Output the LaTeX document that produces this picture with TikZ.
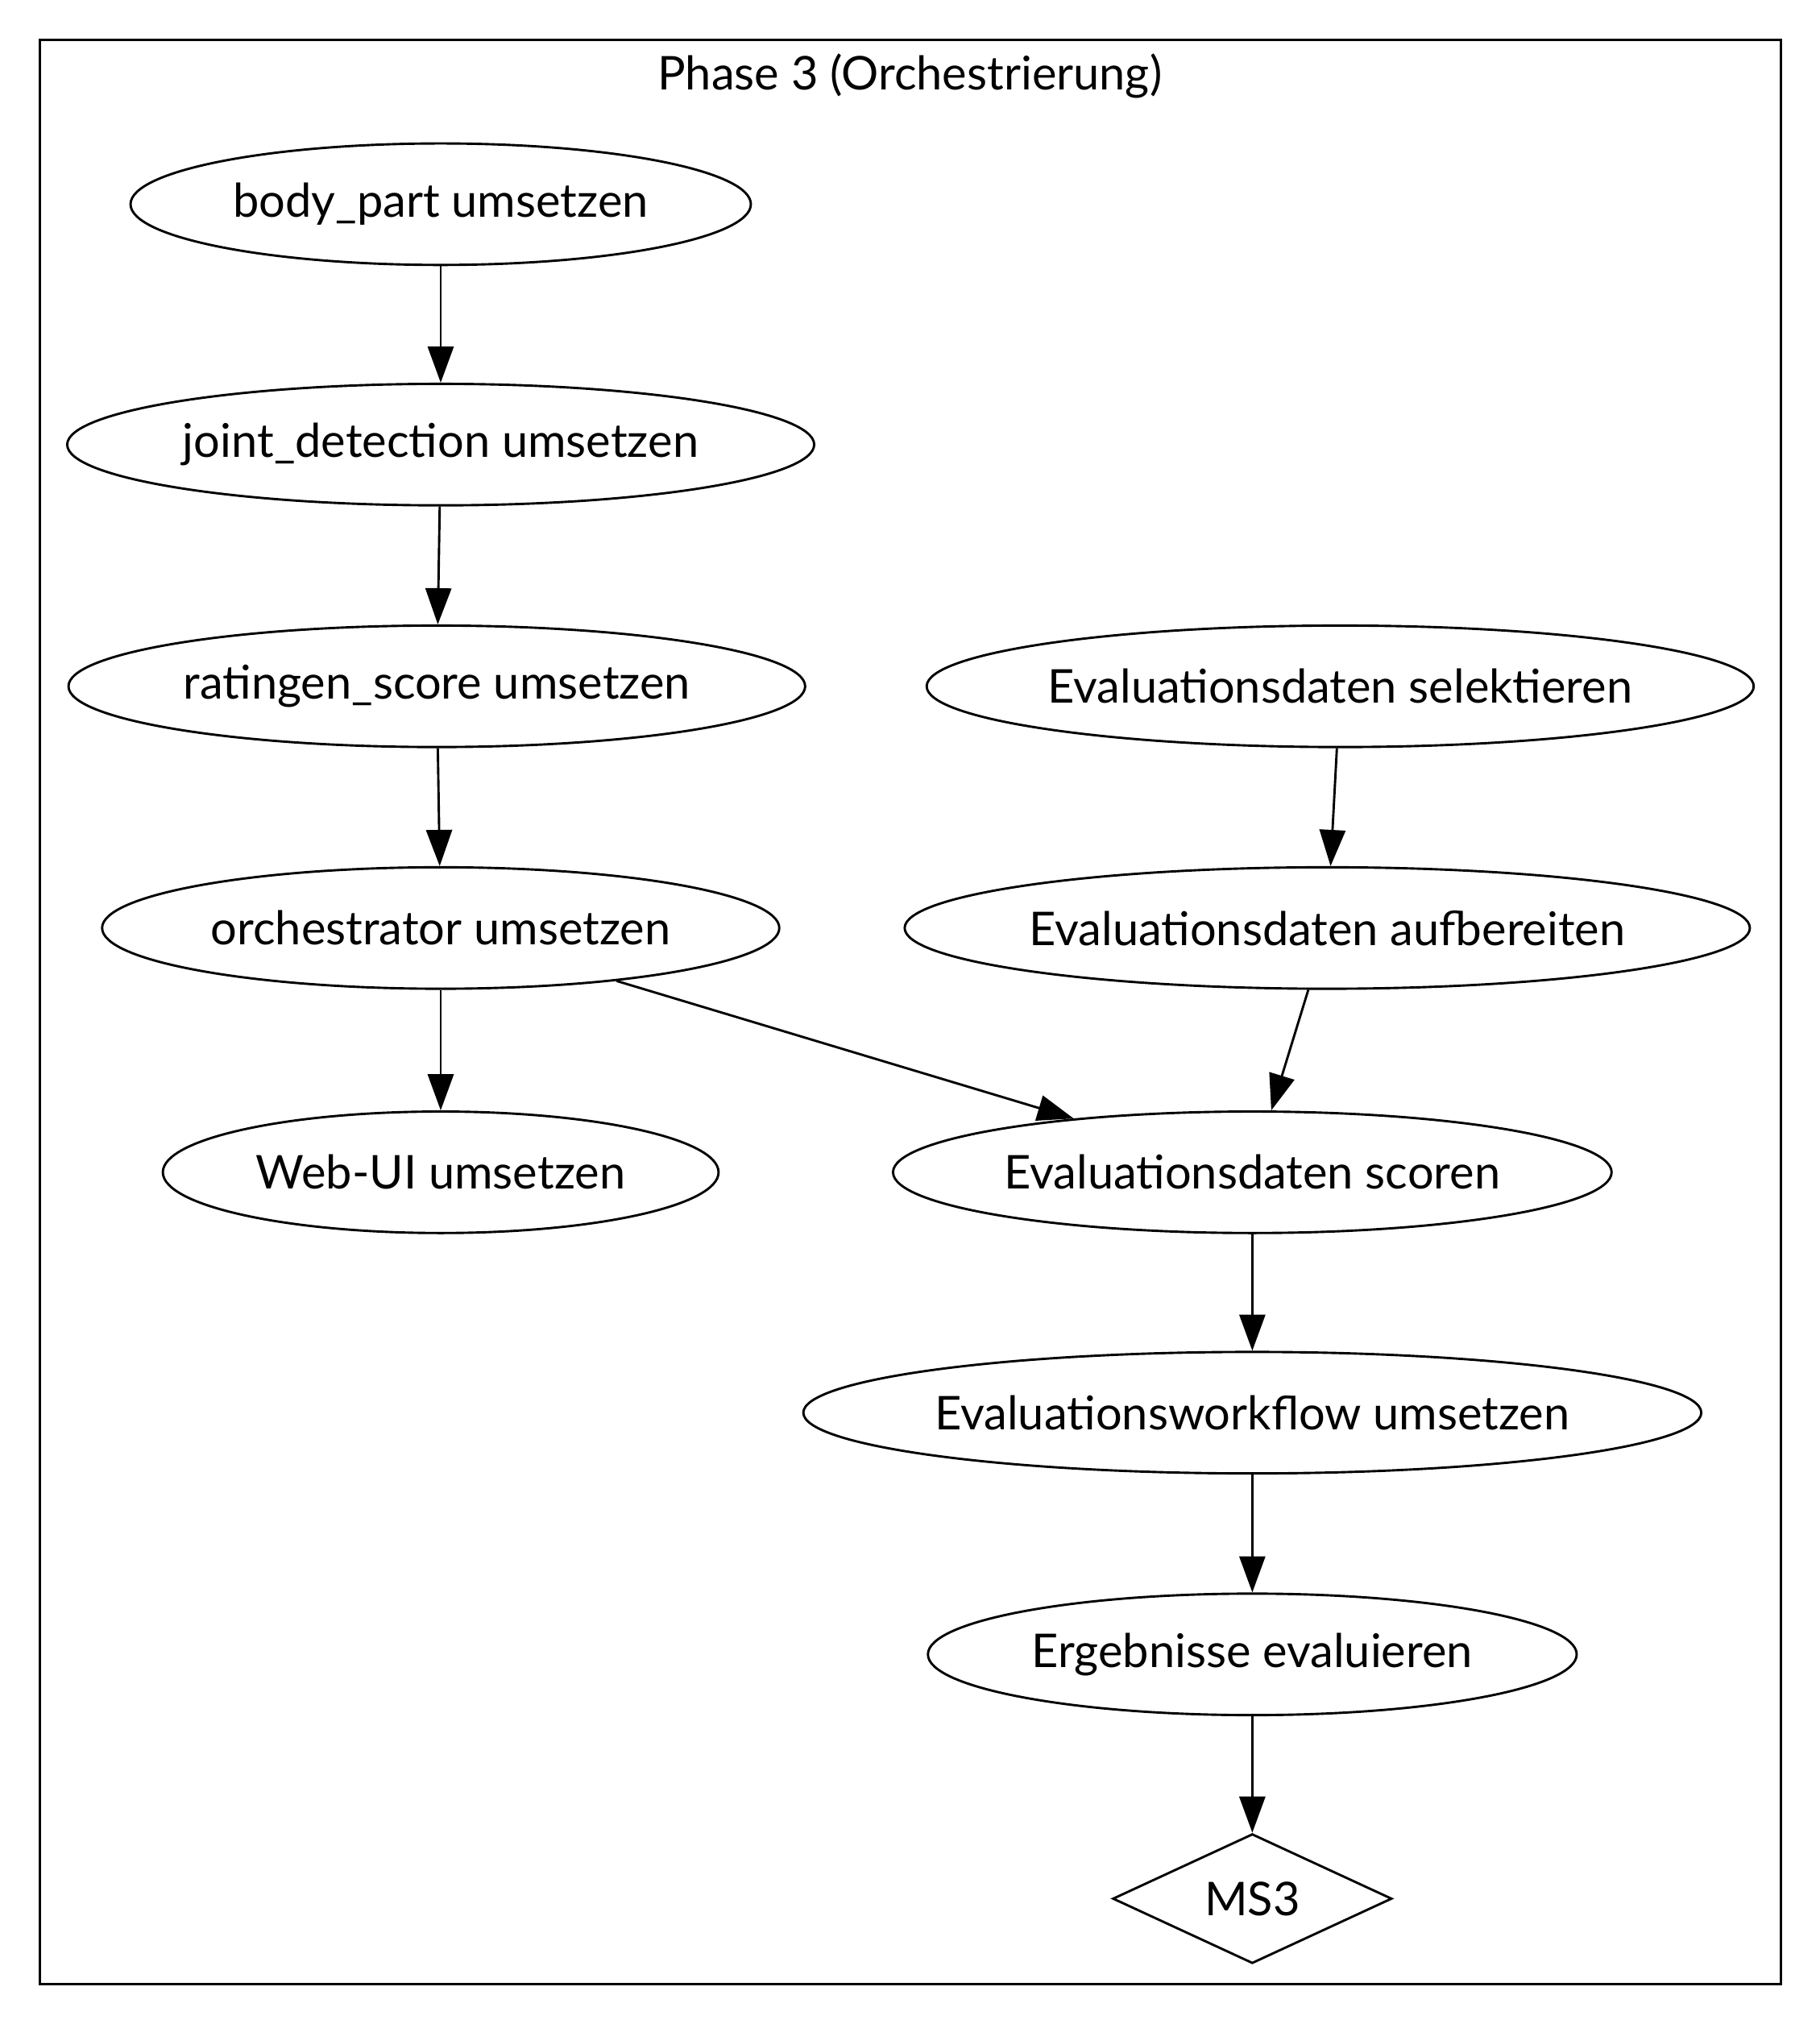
\documentclass[tikz,border=0pt]{standalone}
\usepackage{fontspec}
\setmainfont{Lato}
\usetikzlibrary{arrows.meta}
\usetikzlibrary{shapes.geometric}

\begin{document}
\begin{tikzpicture}[x=0.5pt,y=-0.5pt,line width=0.9pt,
    task/.style={draw,ellipse,inner sep=0pt,minimum height=47pt,
      font=\fontsize{18}{21}\selectfont},
    milestone/.style={draw,diamond,inner sep=0pt,minimum width=108pt,
      minimum height=47pt,font=\fontsize{18}{21}\selectfont},
    flow/.style={-{Triangle[length=14pt,width=10pt]}}]
    % the page, with the frame of the phase and its title
    \useasboundingbox (0,0) rectangle (1408,1566);
    \draw (31,31) rectangle (1378,1535);
    \node[font=\fontsize{18}{21}\selectfont] (title) at (704,59) {Phase 3 (Orchestrierung)};

    % left column
    \node[task,minimum width=240pt] (body)    at (341,158) {body\_part umsetzen};
    \node[task,minimum width=289pt] (joint)   at (341,344) {joint\_detection umsetzen};
    \node[task,minimum width=285pt] (rating)  at (338,531) {ratingen\_score umsetzen};
    \node[task,minimum width=262pt] (orch)    at (341,718) {orchestrator umsetzen};
    \node[task,minimum width=215pt] (webui)   at (341,907) {Web-UI umsetzen};

    % right column
    \node[task,minimum width=319pt] (select)  at (1037,531) {Evaluationsdaten selektieren};
    \node[task,minimum width=327pt] (prepare) at (1027,718) {Evaluationsdaten aufbereiten};
    \node[task,minimum width=278pt] (score)   at (969,907)  {Evaluationsdaten scoren};
    \node[task,minimum width=347pt] (workflow) at (969,1093) {Evaluationsworkflow umsetzen};
    \node[task,minimum width=251pt] (results) at (969,1280) {Ergebnisse evaluieren};
    \node[milestone] (ms) at (969,1469) {MS3};

    % dependencies, drawn from node to node
    \foreach \a/\b in {body/joint,joint/rating,rating/orch,orch/webui,orch/score,
      select/prepare,prepare/score,score/workflow,workflow/results,results/ms}
      \draw[flow] (\a) -- (\b);
\end{tikzpicture}
\end{document}
